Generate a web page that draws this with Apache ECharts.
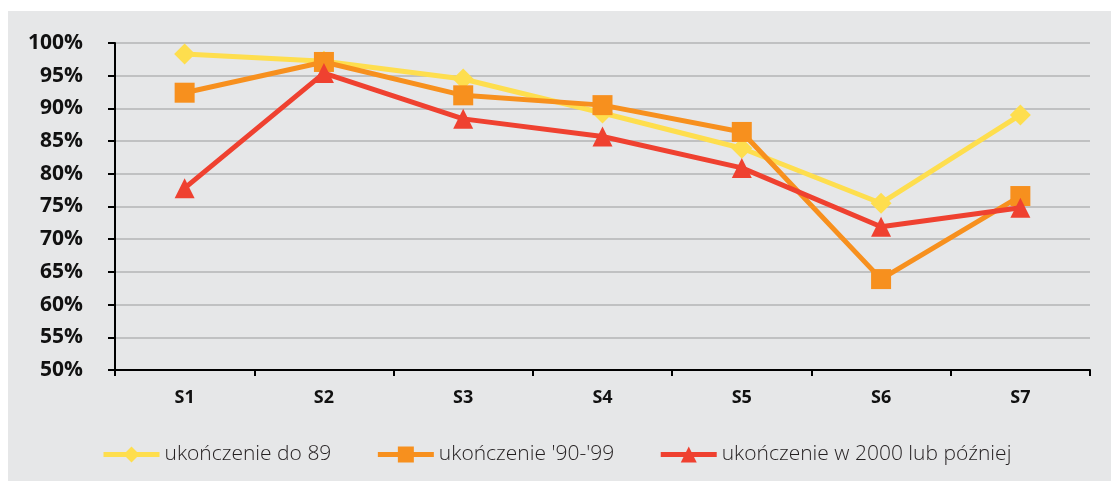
<!DOCTYPE html>
<html>
<head>
<meta charset="utf-8">
<script src="https://cdn.jsdelivr.net/npm/echarts@6/dist/echarts.min.js"></script>
<style>
  html, body { margin: 0; padding: 0; background: #ffffff; }
  #chart { position: absolute; left: 8px; top: 11px; width: 1103px; height: 470px; background: #e6e7e8; }
</style>
</head>
<body>
<div id="chart"></div>
<script>
// kategorie i serie
const categories = ['S1', 'S2', 'S3', 'S4', 'S5', 'S6', 'S7'];
const seriesNames = ['ukończenie do 89', "ukończenie '90-'99", 'ukończenie w 2000 lub później'];
const do89 = [98.3, 97.2, 94.5, 89.3, 83.9, 75.5, 89.0];
const lata90 = [92.4, 97.1, 92.0, 90.5, 86.4, 63.9, 76.6];
const po2000 = [77.8, 95.4, 88.4, 85.7, 80.9, 71.9, 74.8];

const colors = ['#fede4e', '#f7901e', '#ef4130'];
const symbols = ['diamond', 'rect', 'triangle'];
const symbolSizes = [21, 20, 20];
const values = [do89, lata90, po2000];

let myChart = echarts.init(document.getElementById('chart'));
let option = {
    animation: false,
    backgroundColor: '#e6e7e8',
    textStyle: { fontFamily: '"Open Sans", sans-serif' },
    grid: { left: 107, right: 21, top: 32, bottom: 111 },
    legend: {
        left: 88,
        top: 428,
        itemWidth: 56,
        itemHeight: 20,
        itemGap: 44,
        lineStyle: { width: 5 },
        textStyle: { fontSize: 21, color: '#231f20', fontFamily: '"Open Sans", sans-serif', fontWeight: 300 },
        data: seriesNames
    },
    xAxis: {
        type: 'category',
        data: categories,
        boundaryGap: true,
        axisLine: { lineStyle: { color: '#000', width: 2 } },
        axisTick: { show: true, length: 6, lineStyle: { color: '#000', width: 2 } },
        axisLabel: { fontSize: 18, fontWeight: 'bold', color: '#111', margin: 19 },
        splitLine: { show: false }
    },
    yAxis: {
        type: 'value',
        min: 50,
        max: 100,
        interval: 5,
        axisLine: { show: true, lineStyle: { color: '#000', width: 2 } },
        axisTick: { show: true, length: 7, lineStyle: { color: '#000', width: 2 } },
        axisLabel: { fontSize: 21, fontWeight: 'bold', color: '#111', margin: 32, formatter: '{value}%' },
        splitLine: { lineStyle: { color: '#b3b4b6', width: 1.5 } }
    },
    series: values.map((d, i) => ({
        name: seriesNames[i],
        type: 'line',
        data: d,
        symbol: symbols[i],
        symbolSize: symbolSizes[i],
        lineStyle: { color: colors[i], width: 5 },
        itemStyle: { color: colors[i] },
        z: 2 + i
    }))
};
myChart.setOption(option);
</script>
</body>
</html>
